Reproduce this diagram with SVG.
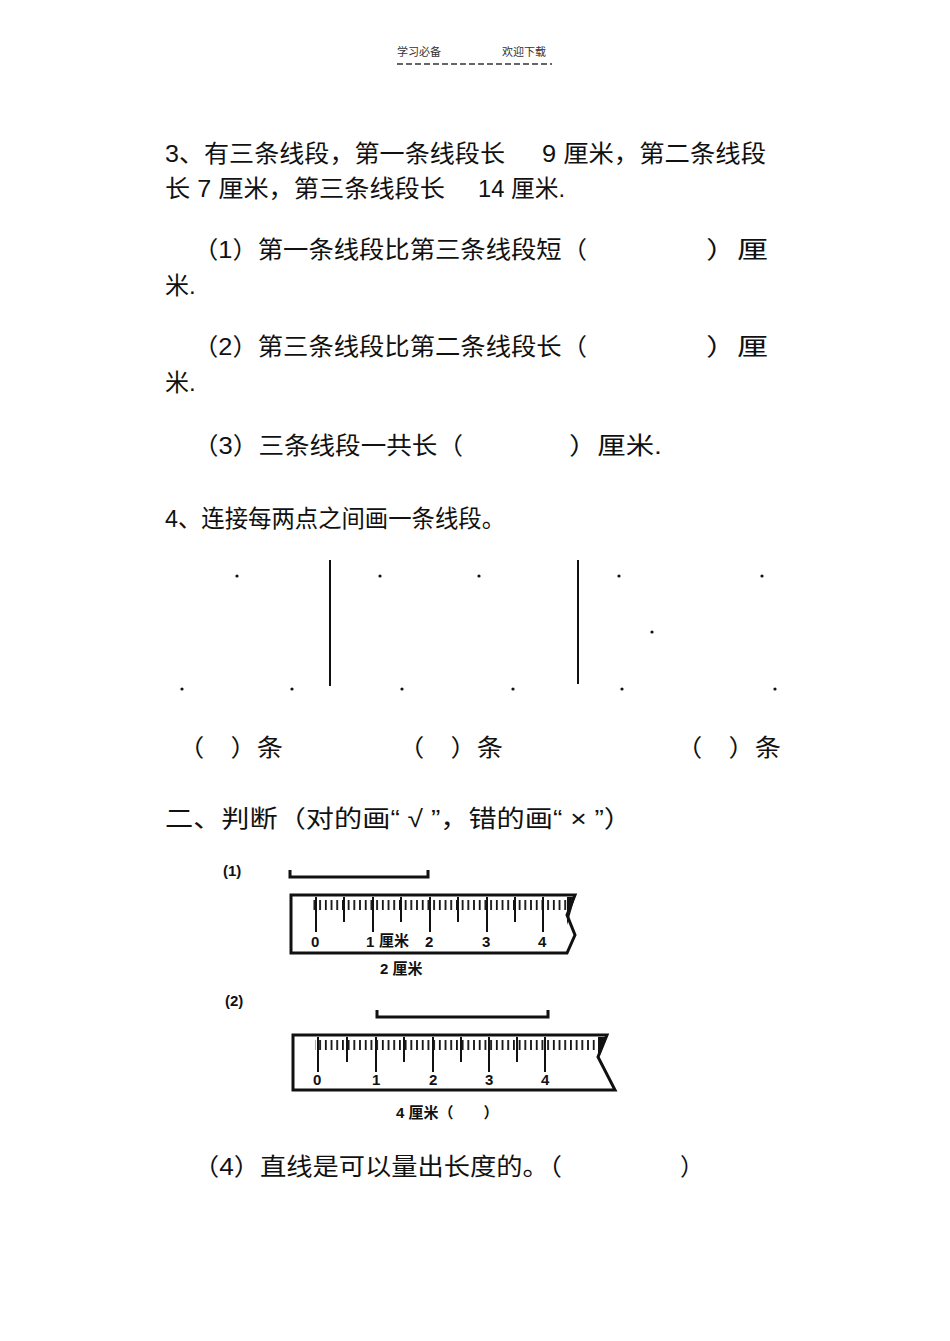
<svg xmlns="http://www.w3.org/2000/svg" width="950" height="1341" viewBox="0 0 950 1341">
<style>
.t{font-family:"Liberation Sans","Noto Sans CJK SC",sans-serif;font-size:24px;fill:#111}
.h{font-family:"Noto Sans CJK SC",sans-serif;font-size:11px;fill:#333}
.r{font-family:"Liberation Sans","Noto Sans CJK SC",sans-serif;font-size:15px;font-weight:bold;fill:#111}
.d{fill:#111}
.b{stroke:#111;fill:none;stroke-width:3}
</style>
<defs>
<pattern id="mm" x="0" y="0" width="5.7" height="20" patternUnits="userSpaceOnUse">
<rect x="0" y="0" width="1.8" height="13" fill="#111"/>
</pattern>
</defs>
<rect width="950" height="1341" fill="#fff"/>
<g id="header">
<text class="h" x="397" y="56">学习必备</text>
<text class="h" x="502" y="56">欢迎下载</text>
<line x1="397" y1="64" x2="552" y2="64" stroke="#333" stroke-width="1.5" stroke-dasharray="6,3"/>
</g>
<g id="q3">
<text class="t" x="165" y="162" textLength="340" lengthAdjust="spacingAndGlyphs">3、有三条线段，第一条线段长</text>
<text class="t" x="542" y="162" textLength="224" lengthAdjust="spacingAndGlyphs">9 厘米，第二条线段</text>
<text class="t" x="165" y="197" textLength="280" lengthAdjust="spacingAndGlyphs">长 7 厘米，第三条线段长</text>
<text class="t" x="478" y="197" textLength="87" lengthAdjust="spacingAndGlyphs">14 厘米.</text>
<text class="t" x="193" y="258" textLength="394" lengthAdjust="spacingAndGlyphs">（1）第一条线段比第三条线段短（</text>
<text class="t" x="706" y="258" textLength="62" lengthAdjust="spacingAndGlyphs">）厘</text>
<text class="t" x="165" y="294">米.</text>
<text class="t" x="193" y="355" textLength="394" lengthAdjust="spacingAndGlyphs">（2）第三条线段比第二条线段长（</text>
<text class="t" x="706" y="355" textLength="62" lengthAdjust="spacingAndGlyphs">）厘</text>
<text class="t" x="165" y="391">米.</text>
<text class="t" x="193" y="454" textLength="270" lengthAdjust="spacingAndGlyphs">（3）三条线段一共长（</text>
<text class="t" x="569" y="454" textLength="93" lengthAdjust="spacingAndGlyphs">）厘米.</text>
</g>
<g id="q4">
<text class="t" x="165" y="527" textLength="340" lengthAdjust="spacingAndGlyphs">4、连接每两点之间画一条线段。</text>
<line x1="330" y1="560" x2="330" y2="686" stroke="#111" stroke-width="2"/>
<line x1="578" y1="560" x2="578" y2="684" stroke="#111" stroke-width="2"/>
<circle class="d" cx="237" cy="576" r="1.6"/>
<circle class="d" cx="182" cy="689" r="1.6"/>
<circle class="d" cx="292" cy="689" r="1.6"/>
<circle class="d" cx="380" cy="576" r="1.6"/>
<circle class="d" cx="479" cy="576" r="1.6"/>
<circle class="d" cx="402" cy="689" r="1.6"/>
<circle class="d" cx="513" cy="689" r="1.6"/>
<circle class="d" cx="619" cy="576" r="1.6"/>
<circle class="d" cx="762" cy="576" r="1.6"/>
<circle class="d" cx="652" cy="632" r="1.6"/>
<circle class="d" cx="622" cy="689" r="1.6"/>
<circle class="d" cx="775" cy="689" r="1.6"/>
<text class="t" x="178" y="756" textLength="105" lengthAdjust="spacingAndGlyphs">（　）条</text>
<text class="t" x="398" y="756" textLength="105" lengthAdjust="spacingAndGlyphs">（　）条</text>
<text class="t" x="676" y="756" textLength="105" lengthAdjust="spacingAndGlyphs">（　）条</text>
</g>
<g id="q-judge">
<text class="t" x="165" y="827" textLength="467" lengthAdjust="spacingAndGlyphs">二、判断（对的画“ √ ”，错的画“ × ”）</text>
</g>
<g id="ruler1">
<text class="r" x="223" y="876">(1)</text>
<path class="b" d="M290 870 V877 H428 V870" stroke-width="2.5"/>
<path d="M291 895 H575 L567 915 L575 935 L567 953 H291 Z" fill="#fff" stroke="#111" stroke-width="3"/>
<rect x="312" y="897" width="255" height="13" fill="url(#mm)"/>
<g stroke="#111" stroke-width="2">
<line x1="316" y1="897" x2="316" y2="932"/><line x1="373" y1="897" x2="373" y2="932"/><line x1="430" y1="897" x2="430" y2="932"/><line x1="487" y1="897" x2="487" y2="932"/><line x1="543" y1="897" x2="543" y2="932"/>
<line x1="344" y1="897" x2="344" y2="922"/><line x1="401" y1="897" x2="401" y2="922"/><line x1="458" y1="897" x2="458" y2="922"/><line x1="515" y1="897" x2="515" y2="922"/>
</g>
<path d="M567 897 L575 897 L567 925 Z" fill="#111"/>
<text class="r" x="311" y="947">0</text><text class="r" x="366" y="947">1</text><text class="r" x="379" y="946">厘米</text><text class="r" x="425" y="947">2</text><text class="r" x="482" y="947">3</text><text class="r" x="538" y="947">4</text>
<text class="r" x="380" y="974">2 厘米</text>
</g>
<g id="ruler2">
<text class="r" x="225" y="1006">(2)</text>
<path class="b" d="M377 1010 V1017 H548 V1010" stroke-width="2.5"/>
<path d="M293 1035 H607 L598 1057 L615 1090 H293 Z" fill="#fff" stroke="#111" stroke-width="3"/>
<rect x="315" y="1037" width="285" height="13" fill="url(#mm)"/>
<g stroke="#111" stroke-width="2">
<line x1="318" y1="1037" x2="318" y2="1072"/><line x1="376" y1="1037" x2="376" y2="1072"/><line x1="433" y1="1037" x2="433" y2="1072"/><line x1="489" y1="1037" x2="489" y2="1072"/><line x1="545" y1="1037" x2="545" y2="1072"/>
<line x1="347" y1="1037" x2="347" y2="1062"/><line x1="404" y1="1037" x2="404" y2="1062"/><line x1="461" y1="1037" x2="461" y2="1062"/><line x1="517" y1="1037" x2="517" y2="1062"/>
</g>
<path d="M598 1037 L607 1037 L598 1060 Z" fill="#111"/>
<text class="r" x="313" y="1085">0</text><text class="r" x="372" y="1085">1</text><text class="r" x="429" y="1085">2</text><text class="r" x="485" y="1085">3</text><text class="r" x="541" y="1085">4</text>
<text class="r" x="396" y="1118">4 厘米（　　）</text>
</g>
<g id="q-4">
<text class="t" x="193" y="1175" textLength="369" lengthAdjust="spacingAndGlyphs">（4）直线是可以量出长度的。（</text>
<text class="t" x="680" y="1175">）</text>
</g>
</svg>
